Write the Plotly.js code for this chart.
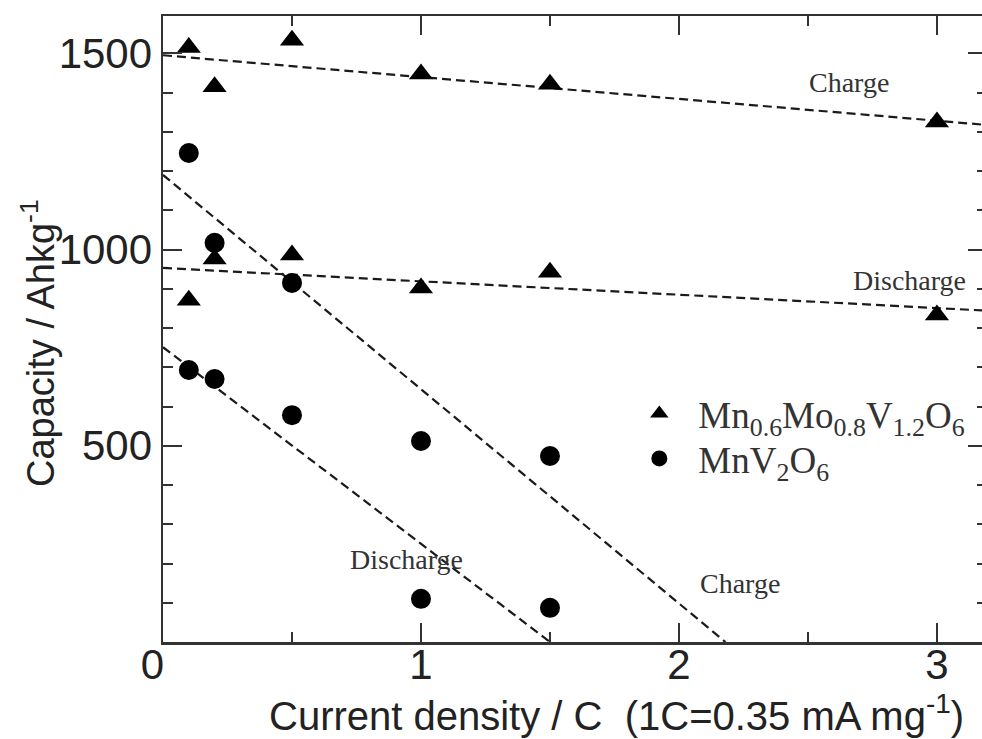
<!DOCTYPE html>
<html>
<head>
<meta charset="utf-8">
<script src="https://cdn.plot.ly/plotly-3.0.1.min.js"></script>
<style>
html,body{margin:0;padding:0;overflow:hidden;background:#fff;}
#chart{width:990px;height:739px;}
</style>
</head>
<body>
<div id="chart"></div>
<script>
// Data
var rateMnMoV = [0.1, 0.2, 0.5, 1, 1.5, 3];
var chargeMnMoV = [1515, 1415, 1533, 1447, 1421, 1325];
var dischargeMnMoV = [871, 976, 986, 902, 942, 833];

var rateMnV = [0.1, 0.2, 0.5, 1, 1.5];
var chargeMnV = [1246, 1017, 915, 512, 474];
var dischargeMnV = [693, 670, 578, 110, 87];

// Dashed trend lines (end points)
var fitChargeMnMoV_x = [0, 3.2];
var fitChargeMnMoV_y = [1495, 1317];
var fitDischargeMnMoV_x = [0, 3.2];
var fitDischargeMnMoV_y = [953, 844];
var fitChargeMnV_x = [0, 2.18];
var fitChargeMnV_y = [1190, 0];
var fitDischargeMnV_x = [0, 1.5];
var fitDischargeMnV_y = [751, 0];

var xTickVals = [0, 1, 2, 3];
var xTickText = ['0\u2002', '1', '2', '3'];
var yTickVals = [500, 1000, 1500];
var yTickText = ['500', '1000', '1500'];

var nameMnMoV = 'Mn<sub>0.6</sub>Mo<sub>0.8</sub>V<sub>1.2</sub>O<sub>6</sub>';
var nameMnV = 'MnV<sub>2</sub>O<sub>6</sub>';

var dashStyle = {color: '#1a1a1a', width: 2.2, dash: '9px,5px'};

var traces = [
  {x: fitChargeMnMoV_x, y: fitChargeMnMoV_y, mode: 'lines', line: dashStyle, showlegend: false, hoverinfo: 'skip'},
  {x: fitDischargeMnMoV_x, y: fitDischargeMnMoV_y, mode: 'lines', line: dashStyle, showlegend: false, hoverinfo: 'skip'},
  {x: fitChargeMnV_x, y: fitChargeMnV_y, mode: 'lines', line: dashStyle, showlegend: false, hoverinfo: 'skip'},
  {x: fitDischargeMnV_x, y: fitDischargeMnV_y, mode: 'lines', line: dashStyle, showlegend: false, hoverinfo: 'skip'},
  {x: rateMnMoV, y: chargeMnMoV, mode: 'markers', name: nameMnMoV, legendgroup: 'a', legend: 'legend',
   marker: {symbol: 'triangle-up', size: 21, color: '#000'}},
  {x: rateMnMoV, y: dischargeMnMoV, mode: 'markers', name: nameMnMoV, legendgroup: 'a', showlegend: false,
   marker: {symbol: 'triangle-up', size: 21, color: '#000'}},
  {x: rateMnV, y: chargeMnV, mode: 'markers', name: nameMnV, legendgroup: 'b', legend: 'legend2',
   marker: {symbol: 'circle', size: 20, color: '#000'}},
  {x: rateMnV, y: dischargeMnV, mode: 'markers', name: nameMnV, legendgroup: 'b', showlegend: false,
   marker: {symbol: 'circle', size: 20, color: '#000'}}
];

var serif = 'Liberation Serif, Times New Roman, serif';
var sans = 'Liberation Sans, Arial, Helvetica, sans-serif';
var noteFont = {family: serif, size: 28, color: '#333'};
var legendFont = {family: serif, size: 37, color: '#333'};

var layout = {
  width: 990, height: 739,
  margin: {l: 163, r: 3, t: 16, b: 97},
  paper_bgcolor: '#fff', plot_bgcolor: '#fff',
  font: {family: sans, color: '#222'},
  showlegend: true,
  legend: {
    x: 0.555, y: 0.414, xanchor: 'left', yanchor: 'top',
    font: legendFont, bgcolor: 'rgba(0,0,0,0)', itemwidth: 68, tracegroupgap: 0
  },
  legend2: {
    x: 0.555, y: 0.342, xanchor: 'left', yanchor: 'top',
    font: legendFont, bgcolor: 'rgba(0,0,0,0)', itemwidth: 68, tracegroupgap: 0
  },
  xaxis: {
    range: [0, 3.194], tickvals: xTickVals, ticktext: xTickText,
    ticks: 'inside', ticklen: 19, tickwidth: 2, tickcolor: '#333',
    showline: true, linecolor: '#333', linewidth: 2.5, mirror: 'ticks',
    showgrid: false, zeroline: false, ticklabelstandoff: -16,
    tickfont: {family: sans, size: 42, color: '#222'},
    minor: {dtick: 0.5, tick0: 0, ticks: 'inside', ticklen: 10, tickwidth: 2, tickcolor: '#333', showgrid: false}
  },
  yaxis: {
    range: [0, 1595], tickvals: yTickVals, ticktext: yTickText,
    ticks: 'inside', ticklen: 19, tickwidth: 2, tickcolor: '#333',
    showline: true, linecolor: '#333', linewidth: 2.5, mirror: 'ticks',
    showgrid: false, zeroline: false,
    tickfont: {family: sans, size: 42, color: '#222'},
    minor: {dtick: 100, tick0: 0, ticks: 'inside', ticklen: 10, tickwidth: 2, tickcolor: '#333', showgrid: false}
  },
  annotations: [
    {text: 'Capacity / Ahkg<sup>-1</sup>', xref: 'paper', yref: 'paper', textangle: -90,
     x: -0.1517, y: 0.4776, xanchor: 'center', yanchor: 'middle', showarrow: false,
     font: {family: sans, size: 38, color: '#222'}},
    {text: 'Current density / C  (1C=0.35 mA mg<sup>-1</sup>)', xref: 'paper', yref: 'paper',
     x: 0.55, y: -0.1134, xanchor: 'center', yanchor: 'middle', showarrow: false,
     font: {family: sans, size: 40, color: '#222'}},
    {text: 'Charge', x: 2.66, y: 1426, xref: 'x', yref: 'y', showarrow: false, font: noteFont},
    {text: 'Discharge', x: 2.895, y: 922, xref: 'x', yref: 'y', showarrow: false, font: noteFont},
    {text: 'Discharge', x: 0.942, y: 209, xref: 'x', yref: 'y', showarrow: false, font: noteFont},
    {text: 'Charge', x: 2.236, y: 150, xref: 'x', yref: 'y', showarrow: false, font: noteFont}
  ]
};

Plotly.newPlot('chart', traces, layout, {displayModeBar: false, staticPlot: true});
</script>
</body>
</html>
